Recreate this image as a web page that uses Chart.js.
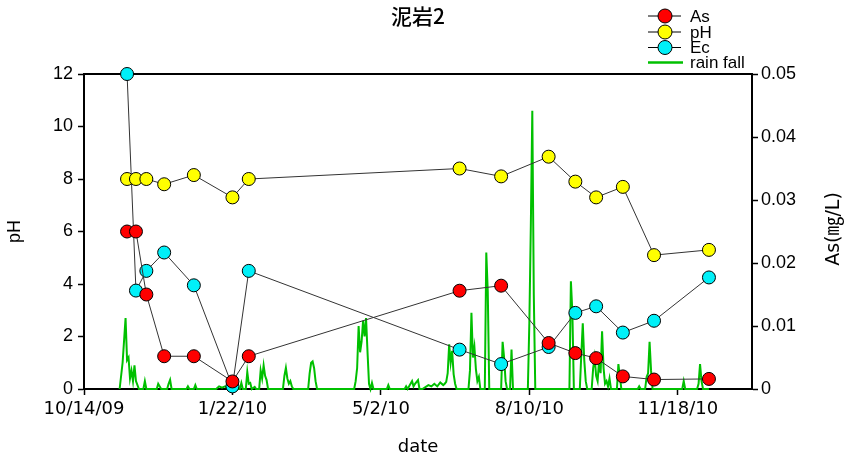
<!DOCTYPE html>
<html>
<head>
<meta charset="utf-8">
<script src="https://cdn.jsdelivr.net/npm/chart.js@4.4.1/dist/chart.umd.min.js"></script>
<style>
  html, body { margin: 0; padding: 0; background: #fff; }
  #wrap { width: 848px; height: 458px; }
</style>
</head>
<body>
<div id="wrap"><canvas id="c" width="848" height="458"></canvas></div>
<script>
// ---------------- data ----------------
const chartTitle = '泥岩2';
const rightAxisTitle = 'As(㎎/L)';
const startDate = '2009-10-14';
const sampleDates = ['2009-11-12','2009-11-18','2009-11-25','2009-12-07','2009-12-27','2010-01-22','2010-02-02',
  '2010-06-24','2010-07-22','2010-08-23','2010-09-10','2010-09-24','2010-10-12','2010-11-02','2010-12-09'];
const asValues = [0.025, 0.025, 0.015, 0.0052, 0.0052, 0.0012, 0.0052, 0.0156, 0.0164, 0.0073, 0.0057, 0.0049, 0.002, 0.0015, 0.0016];
const phValues = [8.0, 8.0, 8.0, 7.8, 8.15, 7.3, 8.0, 8.4, 8.1, 8.85, 7.9, 7.3, 7.7, 5.1, 5.3];
const ecValues = [12.0, 3.75, 4.5, 5.2, 3.95, 0.1, 4.5, 1.5, 0.95, 1.6, 2.9, 3.15, 2.15, 2.6, 4.25];
// rainfall: day offset from startDate, amount (mm)
const rainDays = [24,26,28,29,30,31,32,33,34,35,37,40,41,42,49,50,51,52,56,57,58,59,69,70,71,74,75,76,89,91,93,95,97,
  105,106,107,109,110,111,112,113,115,116,118,119,120,121,122,123,124,134,135,136,137,138,139,140,141,
  151,152,153,154,155,156,157,182,183,184,185,186,187,188,189,190,191,192,193,194,195,204,205,206,216,217,218,
  221,222,223,225,226,228,232,234,236,238,240,242,243,244,245,246,247,248,249,250,251,259,260,261,262,263,264,265,266,267,
  270,271,272,273,281,282,283,284,285,287,288,289,299,300,301,302,303,304,327,328,329,330,334,335,336,337,338,339,
  342,343,344,345,346,347,348,349,350,351,352,353,354,355,359,360,361,362,373,374,375,378,379,380,381,382,383,
  403,404,405,413,414,415,416,417,421];
const rainMm = [0,10,27,11,12,4,7,3,9,3,0,0,3,0,0,2,1,0,0,2,3.5,0,0,1,0,0,1.5,0,0,1,0.5,1,0,
  0,2.3,0,0,6.5,2,2.3,0,0.8,0,0,7,4,9,5,3.4,0,0,5,8,4,2,3,1,0,
  0,6,10,10.5,8,3,0,0,3,8,24,14,18,26,20,27,14,2,0,2.3,0,0,1.5,0,0,1,0,
  3,1,2,3.4,0,0,1.5,1,2,1,2.5,1.5,2,2.7,6,17,10,14.5,5.7,2,0,0,7,29,12,16,7.6,3,4.6,0,
  0,52,37,0,0,18,12,3,0,0,15,0,0,25,62,106,36,0,0,41,29,0,0,13,25,11,3,0,
  0,8,12,5,3,11,6,22,8,2,3,1,4,0,0,9.5,4.6,0,0,1,0,0,4.6,6,18,7,0,
  0,3,0,0,2,9.5,3,0,0];
const tickDays = [0, 100, 200, 300, 400];
const tickLabels = ['10/14/09', '1/22/10', '5/2/10', '8/10/10', '11/18/10'];
const xMaxDay = 450;

// ---------------- helpers ----------------
function dayOf(s) {
  const p = s.split('-').map(Number);
  const q = startDate.split('-').map(Number);
  return Math.round((Date.UTC(p[0], p[1]-1, p[2]) - Date.UTC(q[0], q[1]-1, q[2])) / 86400000);
}
const sampleDays = sampleDates.map(dayOf);
const pts = (vals) => sampleDays.map((d, i) => ({ x: d, y: vals[i] }));
const rainPts = rainDays.map((d, i) => ({ x: d, y: rainMm[i] }));

const FONT = '"Liberation Sans", Arial, "Noto Sans CJK JP", sans-serif';
const FONT2 = '"DejaVu Sans", "Noto Sans CJK JP", sans-serif';

const markerDs = (label, vals, color, axis) => ({
  label, data: pts(vals), yAxisID: axis,
  borderColor: '#333', borderWidth: 1,
  pointRadius: 6.5, pointHoverRadius: 6.5,
  pointBackgroundColor: color, pointBorderColor: '#000', pointBorderWidth: 1,
  clip: false, tension: 0, fill: false
});

const datasets = [
  markerDs('As', asValues, '#ff0000', 'yAs'),
  markerDs('pH', phValues, '#ffff00', 'y'),
  markerDs('Ec', ecValues, '#00f0f8', 'y'),
  { label: 'rain fall', data: rainPts, yAxisID: 'yRain', borderColor: '#00c000', borderWidth: 2,
    pointRadius: 0, tension: 0, fill: false, clip: false }
];

// custom legend + frame + right axis title
const extras = {
  id: 'extras',
  beforeDatasetsDraw(chart) {
    const { ctx, chartArea: a } = chart;
    ctx.save();
    ctx.strokeStyle = '#000';
    ctx.lineWidth = 2;
    ctx.beginPath();
    ctx.moveTo(a.left - 1, a.top);
    ctx.lineTo(a.right + 1, a.top);
    ctx.stroke();
    ctx.restore();
  },
  afterDraw(chart) {
    const { ctx, chartArea: a } = chart;
    ctx.save();
    // right axis title
    ctx.fillStyle = '#000';
    ctx.font = '19px ' + FONT2;
    ctx.textAlign = 'center';
    ctx.textBaseline = 'middle';
    ctx.translate(834, 229);
    ctx.rotate(-Math.PI / 2);
    ctx.fillText(rightAxisTitle, 0, 0);
    ctx.restore();

    // legend
    ctx.save();
    const ys = [16, 32, 47.5, 62.5];
    chart.data.datasets.forEach((ds, i) => {
      const y = ys[i];
      if (ds.pointRadius > 0) {
        ctx.strokeStyle = '#000';
        ctx.lineWidth = 1;
        ctx.beginPath(); ctx.moveTo(648, y); ctx.lineTo(681, y); ctx.stroke();
        ctx.beginPath(); ctx.arc(665, y, 7, 0, Math.PI * 2);
        ctx.fillStyle = ds.pointBackgroundColor; ctx.fill();
        ctx.strokeStyle = '#000'; ctx.stroke();
      } else {
        ctx.strokeStyle = ds.borderColor;
        ctx.lineWidth = 2.5;
        ctx.beginPath(); ctx.moveTo(648, y); ctx.lineTo(683, y); ctx.stroke();
      }
      ctx.fillStyle = '#000';
      ctx.font = '17px ' + FONT;
      ctx.textAlign = 'left';
      ctx.textBaseline = 'middle';
      ctx.fillText(ds.label, 690, y + 1);
    });
    ctx.restore();
  }
};

new Chart(document.getElementById('c'), {
  type: 'line',
  data: { datasets },
  plugins: [extras],
  options: {
    responsive: false,
    animation: false,
    events: [],
    layout: { padding: 0 },
    plugins: {
      legend: { display: false },
      tooltip: { enabled: false },
      title: {
        display: true, text: chartTitle, fullSize: false, color: '#000',
        font: { family: '"Noto Sans CJK JP", sans-serif', size: 21, weight: 500, lineHeight: 1.2 },
        padding: { top: 3, bottom: 45.8 }
      }
    },
    scales: {
      x: {
        type: 'linear', position: 'bottom', min: 0, max: xMaxDay,
        afterBuildTicks: (s) => { s.ticks = tickDays.map(v => ({ value: v })); },
        afterFit: (s) => { s.height = 69; },
        ticks: { callback: (v, i) => tickLabels[i], color: '#000', font: { family: FONT2, size: 18 },
                 padding: 4, maxRotation: 0, autoSkip: false },
        grid: { drawOnChartArea: false, drawTicks: true, tickLength: 6, tickColor: '#000', tickWidth: 1.5 },
        border: { display: true, color: '#000', width: 2 },
        title: { display: true, text: 'date', color: '#000', font: { family: FONT2, size: 18, lineHeight: 1.2 },
                 padding: { top: 0, bottom: 0 } }
      },
      y: {
        position: 'left', min: 0, max: 12,
        afterFit: (s) => { s.width = 84; },
        ticks: { stepSize: 2, color: '#000', font: { family: FONT, size: 18 }, padding: 5 },
        grid: { drawOnChartArea: false, drawTicks: true, tickLength: 6, tickColor: '#000', tickWidth: 1.5 },
        border: { display: true, color: '#000', width: 2 },
        title: { display: true, text: 'pH', color: '#000', font: { family: FONT, size: 18, lineHeight: 1.2 },
                 padding: { top: 4, bottom: 0 } }
      },
      yAs: {
        position: 'right', min: 0, max: 0.05,
        afterFit: (s) => { s.width = 96; },
        ticks: { stepSize: 0.01, color: '#000', font: { family: FONT, size: 18 }, padding: 3,
                 callback: (v) => v === 0 ? '0' : v.toFixed(2) },
        grid: { drawOnChartArea: false, drawTicks: true, tickLength: 6, tickColor: '#000', tickWidth: 1.5 },
        border: { display: true, color: '#000', width: 2 }
      },
      yRain: { position: 'right', display: false, min: 0, max: 120 }
    }
  }
});
</script>
</body>
</html>
